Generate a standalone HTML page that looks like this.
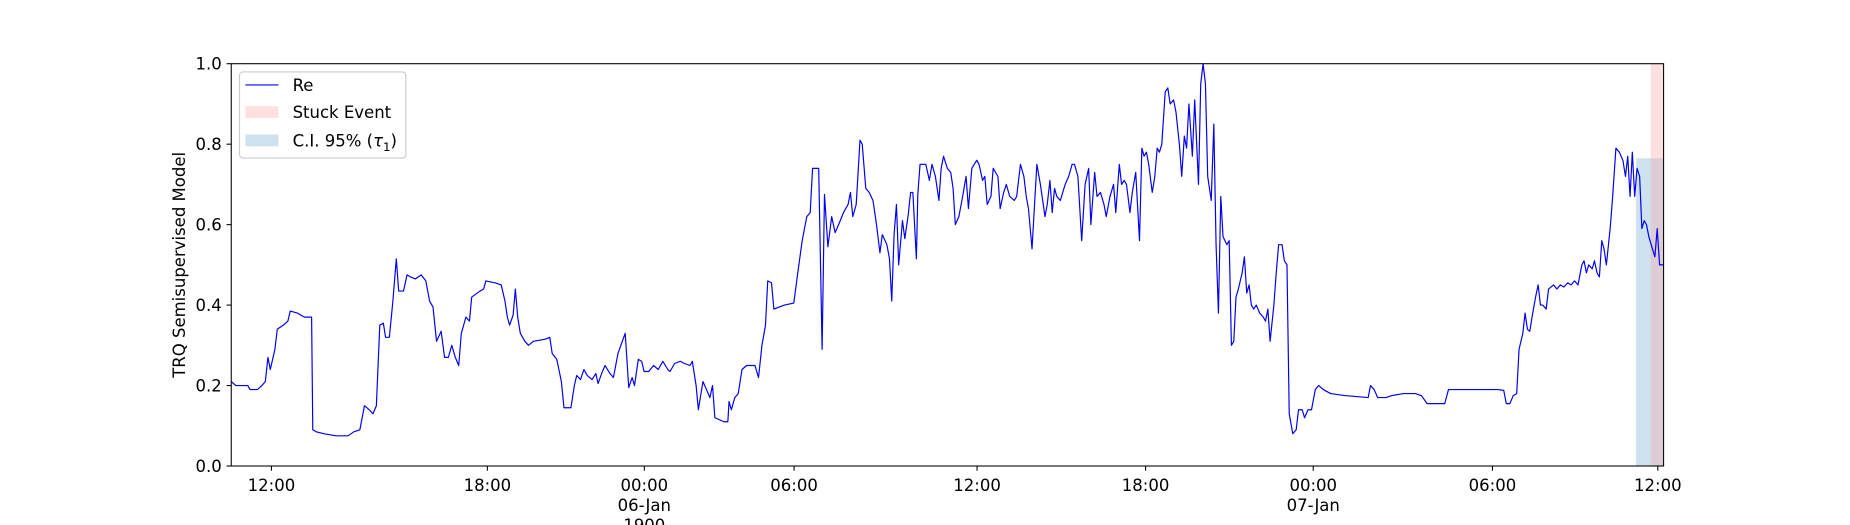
<!DOCTYPE html>
<html><head><meta charset="utf-8"><style>
html,body{margin:0;padding:0;background:#fff;}
svg{display:block;font-family:"DejaVu Sans","Liberation Sans",sans-serif;}
</style></head><body>
<svg id="chart" width="1850" height="525" viewBox="0 0 1568 445" preserveAspectRatio="none">
<g id="plot"></g>
</svg>
<script>
const times=[0,0.16,0.57,0.65,0.90,1.06,1.18,1.27,1.35,1.51,1.59,1.80,1.96,2.04,2.29,2.53,2.78,2.82,2.94,3.22,3.63,4.04,4.24,4.45,4.61,4.77,4.90,5.02,5.14,5.26,5.34,5.47,5.59,5.71,5.79,5.96,6.08,6.20,6.37,6.57,6.73,6.86,6.98,7.10,7.26,7.38,7.51,7.63,7.75,7.87,7.96,8.12,8.24,8.32,8.61,8.73,8.81,9.14,9.34,9.47,9.55,9.63,9.75,9.83,9.91,10.00,10.16,10.28,10.45,10.85,11.02,11.10,11.26,11.42,11.51,11.75,11.87,11.95,12.08,12.20,12.32,12.48,12.61,12.69,12.81,12.93,13.10,13.22,13.38,13.63,13.75,13.87,13.95,14.08,14.20,14.28,14.44,14.61,14.77,14.93,15.10,15.18,15.34,15.54,15.67,15.87,15.95,16.08,16.16,16.32,16.44,16.56,16.65,16.73,16.89,17.05,17.18,17.22,17.30,17.42,17.54,17.67,17.83,18.12,18.24,18.36,18.48,18.56,18.69,18.77,19.14,19.46,19.58,19.75,19.91,20.03,20.11,20.32,20.44,20.52,20.64,20.77,20.89,21.01,21.18,21.34,21.42,21.50,21.62,21.75,21.83,21.95,22.07,22.20,22.32,22.44,22.52,22.68,22.77,22.85,22.93,23.01,23.09,23.22,23.30,23.42,23.50,23.58,23.70,23.75,23.83,24.03,24.15,24.24,24.36,24.48,24.56,24.64,24.77,24.89,24.97,25.05,25.17,25.30,25.42,25.50,25.62,25.79,25.87,25.99,26.07,26.15,26.28,26.36,26.44,26.52,26.60,26.72,26.81,26.93,27.09,27.17,27.30,27.42,27.50,27.58,27.70,27.87,27.99,28.15,28.23,28.32,28.40,28.48,28.56,28.68,28.85,28.97,29.09,29.17,29.29,29.42,29.54,29.66,29.74,29.87,29.95,30.07,30.19,30.27,30.40,30.52,30.60,30.72,30.80,30.89,30.97,31.09,31.17,31.29,31.42,31.50,31.58,31.66,31.74,31.86,31.95,32.03,32.11,32.19,32.31,32.40,32.48,32.60,32.68,32.80,32.88,32.97,33.05,33.13,33.25,33.33,33.46,33.54,33.62,33.70,33.78,33.90,33.99,34.07,34.15,34.23,34.31,34.44,34.52,34.60,34.68,34.76,34.84,34.97,35.05,35.13,35.21,35.29,35.37,35.46,35.58,35.70,35.78,35.86,35.94,36.07,36.15,36.23,36.35,36.43,36.52,36.60,36.72,36.84,36.92,37.05,37.13,37.25,37.37,37.50,37.62,37.78,38.03,38.52,39.33,39.41,39.54,39.66,39.94,40.15,40.56,40.96,41.17,41.37,41.98,42.11,43.82,44.02,44.11,44.23,44.35,44.47,44.55,44.68,44.76,44.84,44.92,45.00,45.12,45.21,45.29,45.37,45.49,45.57,45.74,45.86,45.98,46.10,46.23,46.35,46.47,46.59,46.72,46.80,46.88,46.96,47.08,47.16,47.25,47.33,47.41,47.49,47.57,47.70,47.78,47.90,48.02,48.14,48.23,48.31,48.39,48.47,48.55,48.63,48.72,48.80,48.88,48.96,49.04,49.12,49.25,49.33,49.41,49.54];
const values=[0.21,0.20,0.20,0.19,0.19,0.20,0.21,0.27,0.24,0.29,0.34,0.35,0.36,0.385,0.38,0.37,0.37,0.09,0.085,0.08,0.075,0.075,0.085,0.09,0.15,0.14,0.13,0.15,0.35,0.355,0.32,0.32,0.41,0.515,0.435,0.435,0.475,0.47,0.465,0.475,0.46,0.41,0.395,0.31,0.335,0.27,0.27,0.30,0.27,0.25,0.33,0.37,0.36,0.42,0.435,0.44,0.46,0.455,0.45,0.41,0.37,0.35,0.375,0.44,0.37,0.33,0.31,0.30,0.31,0.315,0.32,0.28,0.265,0.21,0.145,0.145,0.20,0.225,0.215,0.24,0.225,0.215,0.23,0.205,0.23,0.25,0.23,0.22,0.28,0.33,0.195,0.22,0.20,0.265,0.26,0.235,0.235,0.25,0.24,0.26,0.24,0.235,0.255,0.26,0.255,0.25,0.26,0.20,0.14,0.21,0.19,0.17,0.20,0.12,0.115,0.11,0.11,0.16,0.14,0.17,0.18,0.24,0.25,0.25,0.22,0.30,0.35,0.46,0.455,0.39,0.40,0.405,0.47,0.56,0.62,0.63,0.74,0.74,0.29,0.675,0.545,0.62,0.58,0.60,0.63,0.65,0.68,0.62,0.65,0.81,0.80,0.69,0.68,0.66,0.60,0.53,0.575,0.55,0.515,0.41,0.575,0.65,0.50,0.61,0.565,0.625,0.68,0.68,0.515,0.675,0.75,0.75,0.71,0.75,0.72,0.66,0.74,0.77,0.74,0.73,0.69,0.60,0.62,0.67,0.72,0.64,0.74,0.76,0.75,0.71,0.72,0.65,0.67,0.74,0.73,0.72,0.64,0.68,0.70,0.67,0.66,0.67,0.75,0.72,0.67,0.64,0.54,0.75,0.70,0.62,0.65,0.71,0.63,0.69,0.67,0.66,0.70,0.72,0.75,0.75,0.72,0.56,0.70,0.74,0.60,0.73,0.67,0.68,0.65,0.62,0.67,0.70,0.63,0.75,0.70,0.71,0.70,0.63,0.68,0.73,0.56,0.79,0.77,0.78,0.75,0.68,0.72,0.79,0.78,0.80,0.93,0.94,0.90,0.91,0.88,0.80,0.72,0.82,0.79,0.90,0.77,0.91,0.70,0.95,1.0,0.95,0.72,0.66,0.85,0.55,0.38,0.67,0.57,0.55,0.56,0.30,0.31,0.42,0.44,0.48,0.52,0.43,0.45,0.40,0.39,0.40,0.38,0.37,0.36,0.39,0.31,0.40,0.48,0.55,0.55,0.51,0.50,0.13,0.08,0.09,0.14,0.14,0.12,0.14,0.14,0.19,0.20,0.19,0.18,0.175,0.17,0.20,0.19,0.17,0.17,0.175,0.18,0.18,0.175,0.155,0.155,0.19,0.19,0.188,0.155,0.155,0.175,0.18,0.29,0.33,0.38,0.34,0.335,0.37,0.42,0.45,0.40,0.40,0.39,0.44,0.45,0.44,0.45,0.445,0.455,0.45,0.46,0.45,0.50,0.51,0.48,0.50,0.49,0.51,0.48,0.47,0.56,0.54,0.50,0.59,0.66,0.79,0.78,0.76,0.72,0.77,0.67,0.78,0.67,0.74,0.72,0.59,0.61,0.60,0.57,0.55,0.52,0.59,0.50,0.50];
const xTickHours=[1.39,8.86,14.29,19.47,25.80,31.63,37.43,43.63,49.35];
const xTickLabels=["12:00","18:00","00:00","06:00","12:00","18:00","00:00","06:00","12:00"];
const xTickSub=["","","06-Jan","","","","07-Jan","",""];
const yTicks=[0,0.2,0.4,0.6,0.8,1.0];
const ciRange=[48.6,49.55];
const ciTop=[0.765];
const stuckRange=[49.1,49.55];
const xDomain=[0,49.55];

const L=196,R=1410,T=54,B=395;
const NS="http://www.w3.org/2000/svg";
const g=document.getElementById('plot');
function X(h){return L+(h-xDomain[0])/(xDomain[1]-xDomain[0])*(R-L);}
function Y(v){return B-v*(B-T);}
function mk(tag,attrs){const e=document.createElementNS(NS,tag);for(const k in attrs)e.setAttribute(k,attrs[k]);g.appendChild(e);return e;}

let e;
e=mk('rect',{x:X(ciRange[0]),y:Y(ciTop[0]),width:X(ciRange[1])-X(ciRange[0]),height:Y(0)-Y(ciTop[0]),fill:'#1f77b4','fill-opacity':0.22});


e=mk('rect',{x:X(stuckRange[0]),y:Y(1),width:X(stuckRange[1])-X(stuckRange[0]),height:Y(0)-Y(1),fill:'#ff9999','fill-opacity':0.3});



let d='';
for(let i=0;i<times.length;i++){d+=(i?'L':'M')+X(times[i]).toFixed(1)+' '+Y(values[i]).toFixed(1);}
e=mk('path',{d:d,fill:'none',stroke:'#0000ee','stroke-width':1.0,'stroke-linejoin':'round'});



e=mk('rect',{x:L,y:T,width:R-L,height:B-T,fill:'none',stroke:'#000','stroke-width':0.9});



for(let i=0;i<yTicks.length;i++){
  const y=Y(yTicks[i]);
  e=mk('line',{x1:L-4,x2:L,y1:y,y2:y,stroke:'#000','stroke-width':0.9});
  
  
  e=mk('text',{x:L-8,y:y+5,'text-anchor':'end','font-size':14,fill:'#000'});
  e.textContent=yTicks[i].toFixed(1);
  
  
}
for(let i=0;i<xTickHours.length;i++){
  const x=X(xTickHours[i]);
  e=mk('line',{x1:x,x2:x,y1:B,y2:B+4,stroke:'#000','stroke-width':0.9});
  
  
  e=mk('text',{x:x,y:B+21,'text-anchor':'middle','font-size':14,fill:'#000'});
  e.textContent=xTickLabels[i];
  
  
  if(xTickSub[i]){
    e=mk('text',{x:x,y:B+38,'text-anchor':'middle','font-size':14,fill:'#000'});
    e.textContent=xTickSub[i];
    
    
    if(xTickSub[i]==='06-Jan'){
      e=mk('text',{x:x,y:B+55,'text-anchor':'middle','font-size':14,fill:'#000'});
      e.textContent='1900';
      
      
    }
  }
}
e=mk('text',{x:0,y:0,'text-anchor':'middle','font-size':14,fill:'#000',transform:'translate(157,'+((T+B)/2)+') rotate(-90)'});
e.textContent='TRQ Semisupervised Model';



// legend
e=mk('rect',{x:203,y:61,width:141,height:73,rx:3,fill:'#fff','fill-opacity':0.8,stroke:'#ccc'});


e=mk('line',{x1:208,x2:236,y1:72,y2:72,stroke:'#0000ee','stroke-width':1.0});


e=mk('text',{x:248,y:77,'font-size':14,fill:'#000'});e.textContent='Re';


e=mk('rect',{x:208,y:90,width:28,height:10,fill:'#ff9999','fill-opacity':0.3});


e=mk('text',{x:248,y:100,'font-size':14,fill:'#000'});e.textContent='Stuck Event';


e=mk('rect',{x:208,y:114,width:28,height:10,fill:'#1f77b4','fill-opacity':0.22});


e=mk('text',{x:248,y:124,'font-size':14,fill:'#000'});e.innerHTML='C.I. 95% (<tspan font-style="italic">τ</tspan><tspan font-size="10" dy="4">1</tspan><tspan dy="-4">)</tspan>';


</script>
</body></html>
